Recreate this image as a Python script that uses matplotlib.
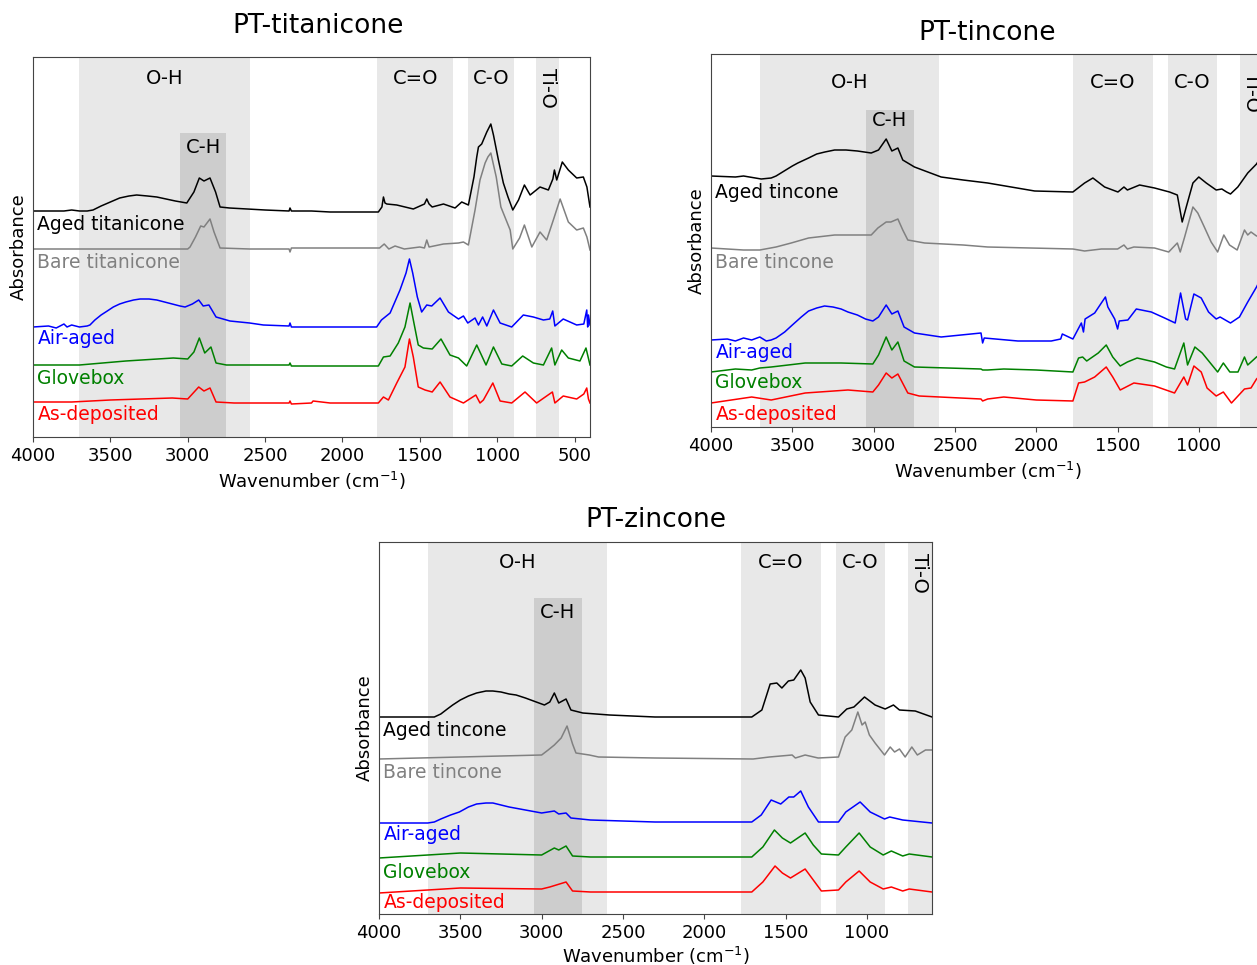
import matplotlib
matplotlib.use("Agg")
import matplotlib.pyplot as plt
import matplotlib.transforms as mtransforms

# ---------------- PT-titanicone ----------------
ti_aged_wn = [4000, 3800, 3750, 3700, 3650, 3612, 3560, 3500, 3440, 3380, 3330, 3260, 3200, 3140, 3080, 3006, 2960,
              2925, 2895, 2856, 2820, 2791, 2730, 2500, 2345, 2339, 2330, 2200, 2080, 1768, 1745, 1735, 1725, 1713,
              1649, 1542, 1470, 1455, 1440, 1420, 1347, 1272, 1229, 1186, 1150, 1132, 1121, 1100, 1089, 1067, 1041,
              1024, 992, 960, 930, 899, 862, 824, 787, 723, 669, 640, 630, 615, 579, 540, 486, 443, 420, 400]
ti_aged_a = [226, 226, 227, 226, 226, 227, 231, 235, 239, 241, 242, 241, 240, 238, 236, 234, 245,
             259, 256, 259, 245, 230, 229, 227, 226, 229, 226, 226, 225, 225, 230, 240, 234, 233,
             232, 228, 233, 238, 233, 230, 233, 229, 235, 232, 260, 280, 290, 293, 297, 305, 313,
             302, 277, 254, 240, 227, 237, 252, 242, 250, 247, 258, 267, 257, 275, 267, 259, 260, 250, 230]

ti_bare_wn = [4000, 3750, 3000, 2985, 2950, 2916, 2895, 2856, 2830, 2791, 2600, 2345, 2339, 2330, 2080, 1760, 1730,
              1700, 1660, 1600, 1500, 1470, 1455, 1440, 1347, 1250, 1218, 1186, 1143, 1111, 1078, 1060, 1041, 1006,
              976, 916, 899, 855, 824, 776, 723, 680, 637, 593, 540, 486, 443, 420, 400]
ti_bare_a = [188, 188, 188, 190, 200, 211, 210, 218, 205, 189, 188, 188, 185, 189, 189, 189, 193,
             188, 191, 188, 190, 189, 197, 190, 193, 194, 195, 192, 227, 257, 274, 280, 284, 260,
             230, 207, 188, 199, 212, 190, 205, 197, 217, 238, 215, 207, 209, 200, 187]

ti_air_wn = [4000, 3900, 3850, 3800, 3780, 3750, 3700, 3650, 3632, 3600, 3560, 3520, 3481, 3440, 3400, 3350, 3308,
             3250, 3200, 3150, 3100, 3050, 3017, 2970, 2929, 2900, 2863, 2817, 2727, 2600, 2511, 2345, 2339, 2330,
             2209, 2000, 1779, 1748, 1692, 1628, 1589, 1567, 1546, 1516, 1488, 1455, 1423, 1369, 1315, 1250, 1218,
             1190, 1143, 1121, 1094, 1067, 1024, 981, 906, 831, 766, 701, 660, 641, 627, 573, 486, 440, 421, 415,
             410, 400]
ti_air_a = [110, 111, 109, 113, 110, 112, 110, 111, 112, 117, 122, 126, 130, 133, 135, 137, 138,
            138, 137, 135, 133, 131, 130, 133, 137, 131, 132, 120, 116, 114, 112, 111, 114, 110,
            110, 110, 110, 117, 124, 147, 164, 178, 164, 140, 125, 132, 131, 139, 125, 118, 121,
            114, 119, 112, 120, 111, 127, 114, 110, 122, 120, 117, 118, 126, 111, 118, 112, 113, 127, 110,
            122, 112]

ti_glove_wn = [4000, 3700, 3400, 3093, 3000, 2960, 2925, 2890, 2850, 2817, 2750, 2345, 2339, 2330, 2080, 1768,
               1735, 1692, 1639, 1596, 1563, 1538, 1510, 1477, 1420, 1363, 1305, 1250, 1197, 1132, 1072, 1024, 970,
               906, 835, 766, 701, 648, 627, 583, 540, 465, 426, 400]
ti_glove_a = [72, 72, 76, 79, 78, 85, 99, 84, 90, 74, 72, 72, 74, 71, 71, 71,
              80, 81, 94, 110, 134, 114, 92, 89, 88, 98, 82, 79, 71, 92, 72, 90, 73,
              71, 81, 74, 72, 89, 72, 87, 79, 76, 89, 72]

ti_dep_wn = [4000, 3750, 3500, 3100, 3000, 2929, 2895, 2856, 2817, 2700, 2345, 2339, 2330, 2200, 2190, 2080, 1768,
             1735, 1703, 1649, 1596, 1567, 1542, 1510, 1466, 1420, 1369, 1305, 1218, 1138, 1111, 1089, 1028, 981,
             906, 820, 745, 643, 627, 573, 486, 440, 421, 410, 400]
ti_dep_a = [35, 35, 37, 39, 38, 50, 46, 49, 35, 34, 34, 36, 33, 34, 36, 34, 34,
            40, 37, 54, 70, 98, 80, 50, 47, 45, 55, 40, 34, 42, 34, 37, 54, 36,
            34, 45, 34, 45, 34, 41, 38, 43, 49, 38, 34]

# ---------------- PT-tincone ----------------
tin_aged_wn = [4000, 3850, 3800, 3691, 3630, 3600, 3550, 3500, 3466, 3400, 3350, 3300, 3240, 3170, 3100, 3015, 2970,
               2923, 2888, 2851, 2821, 2749, 2585, 2450, 2299, 2010, 1775, 1703, 1652, 1580, 1498, 1461, 1440, 1365,
               1273, 1181, 1133, 1103, 1078, 1037, 1001, 955, 894, 859, 830, 806, 761, 700, 646, 600]
tin_aged_a = [251, 250, 251, 248, 249, 251, 256, 261, 264, 269, 273, 275, 277, 277, 276, 274, 277,
              288, 276, 279, 267, 260, 250, 247, 244, 236, 235, 244, 249, 240, 235, 240, 237, 242,
              239, 235, 232, 205, 220, 244, 250, 244, 237, 238, 235, 233, 240, 254, 263, 275]

tin_bare_wn = [4000, 3800, 3700, 3600, 3507, 3400, 3240, 3015, 2974, 2923, 2894, 2851, 2821, 2790, 2687, 2450, 2299,
               1775, 1703, 1600, 1500, 1461, 1440, 1400, 1273, 1186, 1133, 1115, 1088, 1037, 1007, 967, 925, 885, 847,
               812, 765, 720, 700, 680, 646, 600]
tin_bare_a = [179, 177, 177, 180, 184, 189, 192, 192, 199, 205, 205, 208, 197, 187, 184, 182, 180,
              178, 176, 178, 178, 182, 178, 180, 179, 175, 184, 175, 190, 220, 214, 200, 185, 175, 192,
              182, 177, 197, 192, 195, 191, 190]

tin_air_wn = [4000, 3900, 3850, 3800, 3750, 3700, 3660, 3630, 3600, 3547, 3500, 3445, 3400, 3350, 3302, 3250, 3200,
              3158, 3100, 3050, 3005, 2970, 2923, 2888, 2851, 2813, 2749, 2585, 2340, 2330, 2320, 2113, 1908, 1850,
              1840, 1775, 1723, 1710, 1700, 1641, 1600, 1575, 1560, 1518, 1500, 1490, 1437, 1385, 1293, 1211, 1146,
              1113, 1082, 1070, 1031, 986, 941, 894, 870, 806, 751, 700, 646, 600]
tin_air_a = [87, 88, 86, 89, 87, 90, 86, 87, 89, 95, 102, 110, 116, 119, 121, 120, 118,
             115, 112, 108, 106, 110, 122, 113, 116, 100, 94, 90, 94, 84, 89, 86, 86, 88,
             93, 88, 104, 95, 108, 114, 124, 130, 120, 108, 98, 106, 107, 118, 115, 109, 104,
             134, 108, 107, 133, 129, 115, 108, 110, 104, 110, 125, 140, 155]

tin_glove_wn = [4000, 3850, 3750, 3700, 3630, 3421, 3200, 3005, 2970, 2923, 2888, 2851, 2813, 2749, 2340, 2330,
                2299, 2200, 2000, 1775, 1740, 1715, 1690, 1619, 1570, 1530, 1484, 1440, 1380, 1273, 1200, 1150,
                1093, 1070, 1025, 980, 885, 850, 810, 760, 720, 700, 646, 600]
tin_glove_a = [55, 58, 57, 59, 60, 64, 64, 63, 72, 90, 77, 85, 66, 60, 58, 57,
               57, 58, 57, 55, 69, 70, 66, 74, 82, 70, 61, 65, 69, 65, 60, 58,
               84, 62, 80, 74, 55, 64, 55, 55, 70, 62, 70, 75]

tin_dep_wn = [4000, 3750, 3630, 3421, 3158, 3005, 2970, 2923, 2888, 2851, 2790, 2720, 2340, 2330, 2299, 2200, 2000,
              1775, 1740, 1703, 1641, 1570, 1530, 1484, 1400, 1273, 1150, 1093, 1070, 1031, 986, 950, 894, 850, 800,
              720, 680, 646, 600]
tin_dep_a = [24, 30, 27, 34, 37, 35, 42, 54, 49, 53, 34, 31, 28, 26, 28, 30, 27,
             26, 44, 45, 50, 60, 50, 37, 44, 41, 34, 50, 42, 61, 55, 39, 31, 35, 24,
             38, 39, 48, 55]

# ---------------- PT-zincone ----------------
zn_aged_wn = [4000, 3700, 3660, 3620, 3580, 3547, 3500, 3450, 3400, 3342, 3300, 3250, 3200, 3157, 3100, 3050, 2983,
              2950, 2922, 2895, 2850, 2820, 2747, 2583, 2303, 1708, 1646, 1595, 1554, 1523, 1483, 1450, 1407, 1380,
              1349, 1298, 1175, 1124, 1080, 1015, 950, 888, 837, 800, 703, 600]
zn_aged_a = [197, 197, 197, 200, 205, 209, 214, 218, 221, 223, 223, 222, 220, 219, 216, 213, 209,
             212, 221, 211, 215, 204, 201, 199, 197, 197, 204, 230, 231, 226, 233, 234, 244, 236,
             212, 199, 197, 205, 207, 217, 209, 205, 209, 204, 203, 197]

zn_bare_wn = [4000, 3500, 3000, 2960, 2922, 2880, 2844, 2810, 2789, 2707, 2650, 2303, 1700, 1600, 1460, 1440, 1380,
              1300, 1175, 1134, 1093, 1056, 1030, 1011, 985, 950, 892, 857, 830, 800, 765, 724, 690, 640, 600]
zn_bare_a = [155, 157, 159, 164, 169, 176, 188, 170, 161, 159, 157, 156, 155, 157, 159, 156, 159,
             156, 157, 177, 184, 202, 189, 192, 179, 171, 159, 167, 162, 165, 157, 167, 159, 164, 164]

zn_air_wn = [4000, 3700, 3660, 3620, 3560, 3506, 3450, 3400, 3342, 3300, 3250, 3200, 3100, 3000, 2922, 2895, 2850,
             2820, 2700, 2303, 1708, 1650, 1589, 1530, 1480, 1450, 1407, 1360, 1298, 1175, 1130, 1042, 980, 892, 860,
             780, 600]
zn_air_a = [91, 91, 92, 95, 99, 102, 107, 110, 111, 111, 109, 107, 104, 101, 103, 100, 101,
            96, 94, 92, 92, 99, 114, 110, 117, 117, 123, 107, 92, 92, 102, 112, 102, 95, 97,
            94, 91]

zn_glove_wn = [4000, 3500, 3000, 2922, 2895, 2850, 2810, 2700, 2303, 1708, 1640, 1569, 1520, 1470, 1380, 1330, 1280,
               1175, 1130, 1048, 980, 900, 850, 780, 740, 600]
zn_glove_a = [56, 61, 59, 66, 64, 68, 58, 57, 57, 57, 67, 84, 76, 71, 81, 69, 60,
              59, 67, 81, 67, 59, 63, 58, 60, 57]

zn_dep_wn = [4000, 3500, 3000, 2950, 2850, 2810, 2700, 2303, 1708, 1640, 1565, 1520, 1470, 1380, 1330, 1280, 1175,
             1130, 1048, 980, 900, 850, 780, 740, 600]
zn_dep_a = [21, 26, 25, 27, 32, 23, 22, 22, 22, 32, 48, 41, 36, 45, 34, 23, 24,
            32, 43, 32, 25, 27, 23, 25, 22]

# bands (cm-1) and labels
bands = [(3700, 2600), (1775, 1285), (1190, 890), (750, 600)]
band_names = ["O-H", "C=O", "C-O", "Ti-O"]
ch_band = (3050, 2750)
xticks = [4000, 3500, 3000, 2500, 2000, 1500, 1000, 500]

colors = ["black", "grey", "blue", "green", "red"]

plt.rcParams["font.family"] = "DejaVu Sans"

fig = plt.figure(figsize=(12.57, 9.65), dpi=100)


def panel(rect, title, xmin, ytop, traces, names, label_y, ch_top, oh_y, ch_y, title_pad,
          xlabel_pad=4, title_x=0.5):
    ax = fig.add_axes(rect)
    for (lo, hi) in bands:
        ax.axvspan(lo, hi, color="#e8e8e8", lw=0, zorder=0)
    ax.axvspan(ch_band[0], ch_band[1], ymax=ch_top / ytop, color="#cdcdcd", lw=0, zorder=0.5)

    for (wn, a), c in zip(traces, colors):
        ax.plot(wn, a, color=c, lw=1.1)

    trans = mtransforms.blended_transform_factory(ax.transAxes, ax.transData)
    for name, y, c in zip(names, label_y, colors):
        ax.text(0.008, y, name, transform=trans, color=c, fontsize=13.5, ha="left", va="center")

    for (lo, hi), bn in zip(bands, band_names):
        if bn == "Ti-O":
            ax.text((lo + hi) / 2, oh_y - 10, bn, rotation=270, fontsize=14, ha="center", va="center")
        else:
            ax.text((lo + hi) / 2, oh_y, bn, fontsize=14, ha="center", va="center")
    ax.text(sum(ch_band) / 2, ch_y, "C-H", fontsize=14, ha="center", va="center")

    ax.set_xticks([t for t in xticks if t >= xmin])
    ax.set_xlim(4000, xmin)
    ax.set_ylim(0, ytop)
    ax.set_yticks([])
    ax.tick_params(axis="x", labelsize=13, color="#444444")
    for s in ax.spines.values():
        s.set_color("#444444")
    ax.set_xlabel("Wavenumber (cm$^{-1}$)", fontsize=13, labelpad=xlabel_pad)
    ax.set_ylabel("Absorbance", fontsize=13)
    ax.set_title(title, fontsize=19, pad=title_pad, x=title_x)
    return ax


W, H = 1257, 965

panel([33 / W, (H - 437) / H, 557 / W, 380 / H], "PT-titanicone", 400, 380,
      [(ti_aged_wn, ti_aged_a), (ti_bare_wn, ti_bare_a), (ti_air_wn, ti_air_a),
       (ti_glove_wn, ti_glove_a), (ti_dep_wn, ti_dep_a)],
      ["Aged titanicone", "Bare titanicone", "Air-aged", "Glovebox", "As-deposited"],
      [212, 174, 98, 59, 22], 304, 359, 290, 17, title_x=0.512)

panel([711 / W, (H - 427) / H, 553 / W, 373 / H], "PT-tincone", 600, 373,
      [(tin_aged_wn, tin_aged_a), (tin_bare_wn, tin_bare_a), (tin_air_wn, tin_air_a),
       (tin_glove_wn, tin_glove_a), (tin_dep_wn, tin_dep_a)],
      ["Aged tincone", "Bare tincone", "Air-aged", "Glovebox", "As-deposited"],
      [234, 164, 75, 45, 13], 317, 345, 306, 10)

panel([379 / W, (H - 914) / H, 553 / W, 372 / H], "PT-zincone", 600, 372,
      [(zn_aged_wn, zn_aged_a), (zn_bare_wn, zn_bare_a), (zn_air_wn, zn_air_a),
       (zn_glove_wn, zn_glove_a), (zn_dep_wn, zn_dep_a)],
      ["Aged tincone", "Bare tincone", "Air-aged", "Glovebox", "As-deposited"],
      [184, 142, 79, 41, 11], 316, 351, 302, 11, xlabel_pad=2)

fig.savefig("out.png", dpi=100)
plt.close(fig)
